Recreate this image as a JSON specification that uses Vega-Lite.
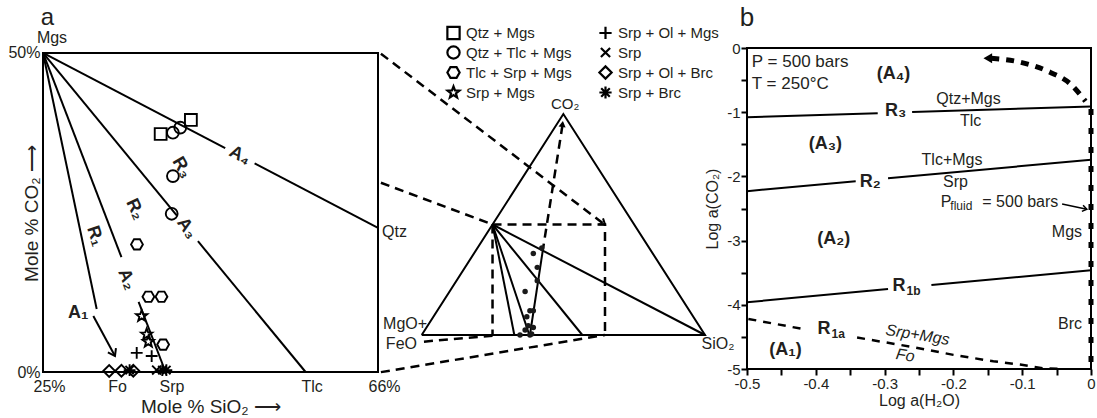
{
  "$schema": "https://vega.github.io/schema/vega-lite/v6.json",
  "padding": {"left": 7, "top": 4, "right": 0, "bottom": 0},
  "background": "white",
  "spacing": 0,
  "bounds": "flush",
  "config": {
    "view": {"stroke": null},
    "font": "Liberation Sans",
    "text": {"font": "Liberation Sans", "color": "#231f20"},
    "axis": {"labelFont": "Liberation Sans", "titleFont": "Liberation Sans", "labelColor": "#231f20", "titleColor": "#231f20", "grid": false, "domain": false, "titleFontWeight": "normal", "labelOverlap": false, "labelFlush": false}
  },
  "datasets": {
    "aLines": [
      {"g": "R1", "o": 1, "x": 25, "y": 50}, {"g": "R1", "o": 2, "x": 31.57, "y": 9.87},
      {"g": "A2a", "o": 1, "x": 25, "y": 50}, {"g": "A2a", "o": 2, "x": 34.6, "y": 18},
      {"g": "A2b", "o": 1, "x": 36.7, "y": 11}, {"g": "A2b", "o": 2, "x": 40, "y": 0},
      {"g": "A3a", "o": 1, "x": 25, "y": 50}, {"g": "A3a", "o": 2, "x": 41.39, "y": 24.5},
      {"g": "A3b", "o": 1, "x": 43.96, "y": 20.5}, {"g": "A3b", "o": 2, "x": 57.14, "y": 0},
      {"g": "A4a", "o": 1, "x": 25, "y": 50}, {"g": "A4a", "o": 2, "x": 47.3, "y": 35.1},
      {"g": "A4b", "o": 1, "x": 50.9, "y": 32.7}, {"g": "A4b", "o": 2, "x": 66, "y": 22.6},
      {"g": "A1", "o": 1, "x": 31.16, "y": 8.78}, {"g": "A1", "o": 2, "x": 33.81, "y": 2.5}
    ],
    "aPts": [
      {"type": "Qtz + Mgs", "x": 39.4, "y": 37.3}, {"type": "Qtz + Mgs", "x": 43.1, "y": 39.5},
      {"type": "Qtz + Tlc + Mgs", "x": 40.9, "y": 37.5}, {"type": "Qtz + Tlc + Mgs", "x": 41.8, "y": 38.3},
      {"type": "Qtz + Tlc + Mgs", "x": 40.9, "y": 30.7}, {"type": "Qtz + Tlc + Mgs", "x": 40.75, "y": 24.8},
      {"type": "Tlc + Srp + Mgs", "x": 36.5, "y": 20.0}, {"type": "Tlc + Srp + Mgs", "x": 37.9, "y": 11.8},
      {"type": "Tlc + Srp + Mgs", "x": 39.5, "y": 11.8}, {"type": "Tlc + Srp + Mgs", "x": 39.7, "y": 4.3},
      {"type": "Srp + Mgs", "x": 37.08, "y": 8.78}, {"type": "Srp + Mgs", "x": 37.69, "y": 5.9}, {"type": "Srp + Mgs", "x": 37.89, "y": 4.75},
      {"type": "Srp + Ol + Mgs", "x": 36.47, "y": 3.0}, {"type": "Srp + Ol + Mgs", "x": 38.3, "y": 2.5},
      {"type": "Srp", "x": 38.9, "y": 0.3},
      {"type": "Srp + Ol + Brc", "x": 33.1, "y": 0.15}, {"type": "Srp + Ol + Brc", "x": 34.6, "y": 0.2}, {"type": "Srp + Ol + Brc", "x": 36.05, "y": 0.2},
      {"type": "Srp + Brc", "x": 35.6, "y": 0.3}, {"type": "Srp + Brc", "x": 39.6, "y": 0.3}, {"type": "Srp + Brc", "x": 40.1, "y": 0.3}
    ],
    "mLines": [
      {"g": "tri", "o": 1, "x": 0, "y": 0}, {"g": "tri", "o": 2, "x": 1, "y": 0}, {"g": "tri", "o": 3, "x": 0.5, "y": 1}, {"g": "tri", "o": 4, "x": 0, "y": 0},
      {"g": "fo", "o": 1, "x": 0.25, "y": 0.5}, {"g": "fo", "o": 2, "x": 0.327, "y": 0},
      {"g": "srp", "o": 1, "x": 0.25, "y": 0.5}, {"g": "srp", "o": 2, "x": 0.38, "y": 0},
      {"g": "tlc", "o": 1, "x": 0.25, "y": 0.5}, {"g": "tlc", "o": 2, "x": 0.567, "y": 0},
      {"g": "qtz", "o": 1, "x": 0.25, "y": 0.5}, {"g": "qtz", "o": 2, "x": 1, "y": 0},
      {"g": "trend", "o": 1, "x": 0.429, "y": 0.396}, {"g": "trend", "o": 2, "x": 0.382, "y": 0}
    ],
    "mDash": [
      {"g": "d1", "o": 1, "x": -0.144, "y": 1.273}, {"g": "d1", "o": 2, "x": 0.64, "y": 0.505},
      {"g": "d2", "o": 1, "x": -0.144, "y": 0.689}, {"g": "d2", "o": 2, "x": 0.25, "y": 0.5},
      {"g": "d3", "o": 1, "x": -0.144, "y": -0.168}, {"g": "d3", "o": 2, "x": 0.647, "y": 0},
      {"g": "d4", "o": 1, "x": 0.008, "y": -0.03}, {"g": "d4", "o": 2, "x": 0.25, "y": -0.003},
      {"g": "d5", "o": 1, "x": 0.25, "y": 0.5}, {"g": "d5", "o": 2, "x": 0.647, "y": 0.5}, {"g": "d5", "o": 3, "x": 0.647, "y": 0},
      {"g": "d6", "o": 1, "x": 0.25, "y": 0.5}, {"g": "d6", "o": 2, "x": 0.25, "y": 0},
      {"g": "d7", "o": 1, "x": 0.497, "y": 0.95}, {"g": "d7", "o": 2, "x": 0.429, "y": 0.396}
    ],
    "mDots": [
      {"x": 0.394, "y": 0.369}, {"x": 0.424, "y": 0.394}, {"x": 0.408, "y": 0.306}, {"x": 0.408, "y": 0.246},
      {"x": 0.365, "y": 0.197}, {"x": 0.382, "y": 0.110}, {"x": 0.394, "y": 0.110}, {"x": 0.371, "y": 0.083},
      {"x": 0.376, "y": 0.042}, {"x": 0.365, "y": 0.023}, {"x": 0.394, "y": 0.034}, {"x": 0.347, "y": 0.0},
      {"x": 0.382, "y": 0.0}, {"x": 0.388, "y": 0.005}
    ],
    "bLines": [
      {"g": "R3a", "o": 1, "x": -0.5, "y": -1.08}, {"g": "R3a", "o": 2, "x": -0.31, "y": -1.015},
      {"g": "R3b", "o": 1, "x": -0.26, "y": -0.998}, {"g": "R3b", "o": 2, "x": 0, "y": -0.91},
      {"g": "R2a", "o": 1, "x": -0.5, "y": -2.23}, {"g": "R2a", "o": 2, "x": -0.342, "y": -2.075},
      {"g": "R2b", "o": 1, "x": -0.295, "y": -2.029}, {"g": "R2b", "o": 2, "x": 0, "y": -1.74},
      {"g": "R1ba", "o": 1, "x": -0.5, "y": -3.96}, {"g": "R1ba", "o": 2, "x": -0.295, "y": -3.755},
      {"g": "R1bb", "o": 1, "x": -0.232, "y": -3.692}, {"g": "R1bb", "o": 2, "x": 0, "y": -3.46}
    ],
    "bDash": [
      {"g": "a", "o": 1, "x": -0.498, "y": -4.22}, {"g": "a", "o": 2, "x": -0.42, "y": -4.375},
      {"g": "b", "o": 1, "x": -0.34, "y": -4.51}, {"g": "b", "o": 2, "x": -0.258, "y": -4.66},
      {"g": "b", "o": 3, "x": -0.2, "y": -4.78}, {"g": "b", "o": 4, "x": -0.142, "y": -4.88},
      {"g": "b", "o": 5, "x": -0.103, "y": -4.93}, {"g": "b", "o": 6, "x": -0.069, "y": -4.99},
      {"g": "b", "o": 7, "x": -0.04, "y": -5.0}
    ],
    "bArc": [
      {"o": 1, "x": -0.145, "y": -0.16}, {"o": 2, "x": -0.103, "y": -0.22}, {"o": 3, "x": -0.059, "y": -0.38},
      {"o": 4, "x": -0.03, "y": -0.56}, {"o": 5, "x": -0.008, "y": -0.83}
    ]
  },
  "hconcat": [
    {
      "width": 335,
      "height": 324,
      "encoding": {
        "x": {"field": "x", "type": "quantitative", "scale": {"domain": [25, 66], "nice": false, "zero": false},
          "axis": {"title": "Mole % SiO₂ ⟶", "values": [25, 33.333, 40, 57.143, 66],
            "labelExpr": "datum.value < 26 ? '25%' : datum.value < 35 ? 'Fo' : datum.value < 41 ? 'Srp' : datum.value < 58 ? 'Tlc' : '66%'",
            "ticks": false, "tickSize": 0, "labelPadding": 6, "labelOffset": 6, "labelFontSize": 16, "titleFontSize": 19, "titlePadding": 3}},
        "y": {"field": "y", "type": "quantitative", "scale": {"domain": [0, 50.78], "nice": false, "zero": false},
          "axis": {"title": "Mole % CO₂ ⟶", "values": [0, 50], "labelExpr": "datum.value == 0 ? '0%' : '50%'",
            "ticks": false, "tickSize": 0, "labelPadding": 3, "labelFontSize": 16, "titleFontSize": 19, "titleX": -2, "titleY": 165, "titleAngle": -90, "titleBaseline": "bottom"}}
      },
      "layer": [
        {"data": {"values": [{"x": 25, "x2": 66, "y": 0, "y2": 50}]}, "mark": {"type": "rect", "filled": false, "stroke": "black", "strokeWidth": 2}, "encoding": {"x2": {"field": "x2"}, "y2": {"field": "y2"}}},
        {"data": {"name": "aLines"}, "mark": {"type": "line", "color": "black", "strokeWidth": 2}, "encoding": {"detail": {"field": "g"}, "order": {"field": "o"}}},
        {"data": {"values": [{"x": 33.81, "y": 2.5}]}, "mark": {"type": "point", "shape": "M-1,-0.7L0,0L-1,0.7", "angle": 62, "size": 170, "filled": false, "color": "black", "strokeWidth": 2, "opacity": 1}},
        {"data": {"name": "aPts"}, "mark": {"type": "point", "filled": false, "color": "black", "strokeWidth": 1.9, "size": 140, "opacity": 1},
          "encoding": {"shape": {"field": "type", "type": "nominal",
            "scale": {"domain": ["Qtz + Mgs", "Qtz + Tlc + Mgs", "Tlc + Srp + Mgs", "Srp + Mgs", "Srp + Ol + Mgs", "Srp", "Srp + Ol + Brc", "Srp + Brc"],
              "range": ["square", "circle", "M-1,0L-0.5,-0.866L0.5,-0.866L1,0L0.5,0.866L-0.5,0.866Z", "M0,-1L0.247,-0.34L0.951,-0.309L0.399,0.13L0.588,0.809L0,0.42L-0.588,0.809L-0.399,0.13L-0.951,-0.309L-0.247,-0.34Z", "M-1,0L1,0M0,-1L0,1", "M-0.75,-0.75L0.75,0.75M-0.75,0.75L0.75,-0.75", "diamond", "M-1,0L1,0M0,-1L0,1M-0.7,-0.7L0.7,0.7M-0.7,0.7L0.7,-0.7"]},
            "legend": {"orient": "none", "legendX": 403, "legendY": -23, "columns": 2, "title": null, "labelFont": "Liberation Sans", "labelFontSize": 15, "labelColor": "#231f20", "symbolSize": 150, "symbolStrokeWidth": 2.2, "symbolStrokeColor": "black", "symbolFillColor": "transparent", "symbolOpacity": 1, "rowPadding": -3, "columnPadding": 22, "labelOffset": 5, "padding": 0}}}},
        {"data": {"values": [{"x": 31.36, "y": 21.3, "t": "R₁"}]}, "mark": {"type": "text", "angle": 72, "fontWeight": "bold", "fontSize": 18}, "encoding": {"text": {"field": "t"}}},
        {"data": {"values": [{"x": 35.24, "y": 14.5, "t": "A₂"}]}, "mark": {"type": "text", "angle": 68, "fontWeight": "bold", "fontSize": 18}, "encoding": {"text": {"field": "t"}}},
        {"data": {"values": [{"x": 36.26, "y": 25.5, "t": "R₂"}]}, "mark": {"type": "text", "angle": 65, "fontWeight": "bold", "fontSize": 18}, "encoding": {"text": {"field": "t"}}},
        {"data": {"values": [{"x": 41.98, "y": 32.0, "t": "R₃"}]}, "mark": {"type": "text", "angle": 60, "fontWeight": "bold", "fontSize": 18}, "encoding": {"text": {"field": "t"}}},
        {"data": {"values": [{"x": 42.6, "y": 22.5, "t": "A₃"}]}, "mark": {"type": "text", "angle": 55, "fontWeight": "bold", "fontSize": 18}, "encoding": {"text": {"field": "t"}}},
        {"data": {"values": [{"x": 49.1, "y": 33.9, "t": "A₄"}]}, "mark": {"type": "text", "angle": 28, "fontWeight": "bold", "fontSize": 18}, "encoding": {"text": {"field": "t"}}},
        {"data": {"values": [{"x": 29.32, "y": 9.3, "t": "A₁"}]}, "mark": {"type": "text", "fontWeight": "bold", "fontSize": 18}, "encoding": {"text": {"field": "t"}}},
        {"data": {"values": [{"x": 26.1, "y": 52.35, "t": "Mgs"}]}, "mark": {"type": "text", "fontSize": 16}, "encoding": {"text": {"field": "t"}}},
        {"data": {"values": [{"x": 25.55, "y": 54.45, "t": "a"}]}, "mark": {"type": "text", "fontSize": 24, "baseline": "alphabetic"}, "encoding": {"text": {"field": "t"}}},
        {"data": {"values": [{"x": 66, "y": 21.9, "t": "Qtz"}]}, "mark": {"type": "text", "fontSize": 16, "align": "left", "dx": 4}, "encoding": {"text": {"field": "t"}}}
      ]
    },
    {
      "width": 369,
      "height": 324,
      "encoding": {
        "x": {"field": "x", "type": "quantitative", "scale": {"domain": [-0.15425, 1.14825], "nice": false, "zero": false}, "axis": null},
        "y": {"field": "y", "type": "quantitative", "scale": {"domain": [-0.1674, 1.2986], "nice": false, "zero": false}, "axis": null}
      },
      "layer": [
        {"data": {"name": "mLines"}, "mark": {"type": "line", "color": "black", "strokeWidth": 2}, "encoding": {"detail": {"field": "g"}, "order": {"field": "o"}}},
        {"data": {"name": "mDash"}, "mark": {"type": "line", "color": "black", "strokeWidth": 2.5, "strokeDash": [9, 6]}, "encoding": {"detail": {"field": "g"}, "order": {"field": "o"}}},
        {"data": {"name": "mDots"}, "mark": {"type": "point", "shape": "circle", "filled": true, "color": "#1a1a1a", "size": 30, "opacity": 1}},
        {"data": {"values": [{"x": 0.647, "y": 0.5}]}, "mark": {"type": "point", "shape": "M-1,-0.7L0,0L-1,0.7", "angle": 37, "size": 110, "filled": false, "color": "black", "strokeWidth": 2, "opacity": 1}},
        {"data": {"values": [{"x": 0.497, "y": 0.955}]}, "mark": {"type": "point", "shape": "triangle-up", "angle": 8, "size": 50, "filled": true, "color": "black", "opacity": 1}},
        {"data": {"values": [{"x": 0.506, "y": 1.047, "t": "CO₂"}]}, "mark": {"type": "text", "fontSize": 15}, "encoding": {"text": {"field": "t"}}},
        {"data": {"values": [{"x": 0.019, "y": 0.051, "t": "MgO+"}, {"x": -0.0166, "y": -0.039, "t": "FeO"}]}, "mark": {"type": "text", "fontSize": 16, "align": "right"}, "encoding": {"text": {"field": "t"}}},
        {"data": {"values": [{"x": 0.988, "y": -0.039, "t": "SiO₂"}]}, "mark": {"type": "text", "fontSize": 16, "align": "left"}, "encoding": {"text": {"field": "t"}}}
      ]
    },
    {
      "width": 344,
      "height": 321,
      "encoding": {
        "x": {"field": "x", "type": "quantitative", "scale": {"domain": [-0.5, 0], "nice": false, "zero": false},
          "axis": {"title": "Log a(H₂O)", "values": [-0.5, -0.45, -0.4, -0.35, -0.3, -0.25, -0.2, -0.15, -0.1, -0.05, 0],
            "labelExpr": "abs(datum.value*10 - round(datum.value*10)) > 0.01 ? '' : datum.value == 0 ? '0' : '-' + format(abs(datum.value), '.1f')",
            "ticks": true, "tickSize": 6, "tickWidth": 2, "tickColor": "black", "labelPadding": 1, "labelFontSize": 15, "titleFontSize": 16, "titlePadding": 1}},
        "y": {"field": "y", "type": "quantitative", "scale": {"domain": [-5, 0], "nice": false, "zero": false},
          "axis": {"title": "Log a(CO₂)", "values": [0, -0.5, -1, -1.5, -2, -2.5, -3, -3.5, -4, -4.5, -5],
            "labelExpr": "datum.value % 1 != 0 ? '' : datum.value == 0 ? '0' : '-' + format(abs(datum.value), 'd')",
            "ticks": true, "tickSize": 6, "tickWidth": 2, "tickColor": "black", "labelPadding": 1, "labelFontSize": 15, "titleFontSize": 16, "titlePadding": 6}}
      },
      "layer": [
        {"data": {"values": [{"x": -0.5, "x2": 0, "y": -5, "y2": 0}]}, "mark": {"type": "rect", "filled": false, "stroke": "black", "strokeWidth": 2}, "encoding": {"x2": {"field": "x2"}, "y2": {"field": "y2"}}},
        {"data": {"name": "bLines"}, "mark": {"type": "line", "color": "black", "strokeWidth": 2}, "encoding": {"detail": {"field": "g"}, "order": {"field": "o"}}},
        {"data": {"name": "bDash"}, "mark": {"type": "line", "color": "black", "strokeWidth": 2.5, "strokeDash": [8, 7]}, "encoding": {"detail": {"field": "g"}, "order": {"field": "o"}}},
        {"data": {"values": [{"o": 1, "x": 0, "y": -0.95}, {"o": 2, "x": 0, "y": -5}]}, "mark": {"type": "line", "color": "black", "strokeWidth": 5, "strokeDash": [6, 13], "strokeCap": "butt"}, "encoding": {"order": {"field": "o"}}},
        {"data": {"name": "bArc"}, "mark": {"type": "line", "color": "black", "strokeWidth": 5, "strokeDash": [8, 7], "interpolate": "monotone"}, "encoding": {"order": {"field": "o"}}},
        {"data": {"values": [{"x": -0.15, "y": -0.158}]}, "mark": {"type": "point", "shape": "triangle-left", "size": 100, "filled": true, "color": "black", "opacity": 1}},
        {"data": {"values": [{"o": 1, "x": -0.042, "y": -2.43}, {"o": 2, "x": -0.006, "y": -2.51}]}, "mark": {"type": "line", "color": "black", "strokeWidth": 1.5}, "encoding": {"order": {"field": "o"}}},
        {"data": {"values": [{"x": -0.006, "y": -2.51}]}, "mark": {"type": "point", "shape": "M-1,-0.7L0,0L-1,0.7", "angle": 11, "size": 80, "filled": false, "color": "black", "strokeWidth": 1.5, "opacity": 1}},
        {"data": {"values": [{"x": -0.178, "y": -0.79, "t": "Qtz+Mgs"}, {"x": -0.175, "y": -1.14, "t": "Tlc"}, {"x": -0.202, "y": -1.74, "t": "Tlc+Mgs"}, {"x": -0.197, "y": -2.09, "t": "Srp"}]}, "mark": {"type": "text", "fontSize": 16}, "encoding": {"text": {"field": "t"}}},
        {"data": {"values": [{"x": -0.013, "y": -2.87, "t": "Mgs"}, {"x": -0.013, "y": -4.3, "t": "Brc"}]}, "mark": {"type": "text", "fontSize": 16, "align": "right"}, "encoding": {"text": {"field": "t"}}},
        {"data": {"values": [{"x": -0.287, "y": -0.4, "t": "(A₄)"}, {"x": -0.386, "y": -1.49, "t": "(A₃)"}, {"x": -0.374, "y": -2.97, "t": "(A₂)"}, {"x": -0.444, "y": -4.71, "t": "(A₁)"}, {"x": -0.284, "y": -0.98, "t": "R₃"}, {"x": -0.321, "y": -2.09, "t": "R₂"}]}, "mark": {"type": "text", "fontSize": 18, "fontWeight": "bold"}, "encoding": {"text": {"field": "t"}}},
        {"data": {"values": [{"x": -0.279, "y": -3.71, "t": "R"}, {"x": -0.388, "y": -4.37, "t": "R"}]}, "mark": {"type": "text", "fontSize": 18, "fontWeight": "bold"}, "encoding": {"text": {"field": "t"}}},
        {"data": {"values": [{"x": -0.268, "y": -3.71, "t": "1b"}, {"x": -0.377, "y": -4.37, "t": "1a"}]}, "mark": {"type": "text", "fontSize": 12, "fontWeight": "bold", "align": "left", "dy": 5}, "encoding": {"text": {"field": "t"}}},
        {"data": {"values": [{"x": -0.252, "y": -4.47, "t": "Srp+Mgs"}, {"x": -0.27, "y": -4.79, "t": "Fo"}]}, "mark": {"type": "text", "fontSize": 16, "fontStyle": "italic", "angle": 9}, "encoding": {"text": {"field": "t"}}},
        {"data": {"values": [{"x": -0.493, "y": -0.224, "t": "P = 500 bars"}, {"x": -0.493, "y": -0.561, "t": "T = 250°C"}]}, "mark": {"type": "text", "fontSize": 17, "align": "left"}, "encoding": {"text": {"field": "t"}}},
        {"data": {"values": [{"x": -0.2185, "y": -2.394, "t": "P"}, {"x": -0.158, "y": -2.394, "t": "= 500 bars"}]}, "mark": {"type": "text", "fontSize": 16, "align": "left"}, "encoding": {"text": {"field": "t"}}},
        {"data": {"values": [{"x": -0.2045, "y": -2.394, "t": "fluid"}]}, "mark": {"type": "text", "fontSize": 12, "align": "left", "dy": 4}, "encoding": {"text": {"field": "t"}}},
        {"data": {"values": [{"x": -0.5, "y": 0.347, "t": "b"}]}, "mark": {"type": "text", "fontSize": 26, "baseline": "alphabetic"}, "encoding": {"text": {"field": "t"}}}
      ]
    }
  ]
}
